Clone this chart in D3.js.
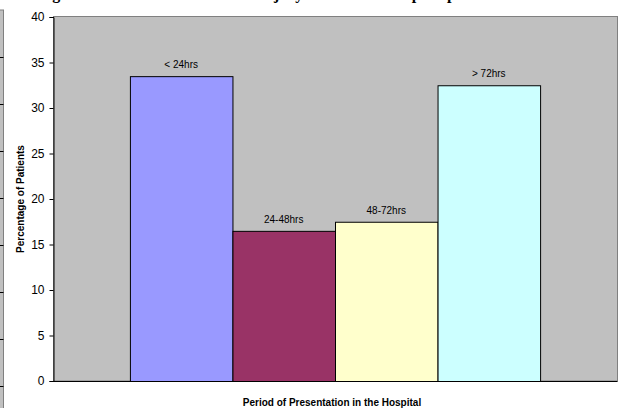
<!DOCTYPE html>
<html>
<head>
<meta charset="utf-8">
<script src="https://cdn.jsdelivr.net/npm/d3@7"></script>
<style>
  body { margin: 0; background: #fff; }
  svg { display: block; }
  text { font-family: Arial, "Liberation Sans", sans-serif; }
</style>
</head>
<body>
<svg id="chart" width="619" height="408"></svg>
<script>
// data
var category = ["Period of Presentation in the Hospital"];
var series = ["< 24hrs", "24-48hrs", "48-72hrs", "> 72hrs"];
var values = [33.5, 16.5, 17.5, 32.5];
var colors = ["#9999FF", "#993366", "#FFFFCC", "#CCFFFF"];
var yTicks = [0, 5, 10, 15, 20, 25, 30, 35, 40];

var svg = d3.select("#chart");

var plot = {left: 53, right: 617, top: 17, bottom: 381};

// bit of the neighbouring chart on the left edge
svg.append("rect")
	.attr("x", -1).attr("y", 10)
	.attr("width", 4.5).attr("height", 400)
	.attr("fill", "#C0C0C0")
	.attr("stroke", "#808080");
svg.selectAll(".edge_tick")
	.data(d3.range(57, 408, 47))
	.enter()
	.append("line")
	.attr("class", "edge_tick")
	.attr("x1", 0).attr("x2", 3.5)
	.attr("y1", function(d) { return d + 0.5; })
	.attr("y2", function(d) { return d + 0.5; })
	.attr("stroke", "#000");

// title, cut off by the top of the picture (only descenders show)
svg.append("text")
	.attr("x", 38)
	.attr("y", -1)
	.attr("style", "font-family: 'Liberation Serif', 'Times New Roman', serif; font-weight: bold; font-size: 16px;")
	.attr("fill", "#000")
	.text("Figure 2: Time interval between injury to the main hospital presentation");

var y = d3.scaleLinear()
	.domain([0, 40])
	.range([plot.bottom, plot.top]);

var x0 = d3.scaleBand()
	.domain(category)
	.range([plot.left, plot.right])
	.paddingOuter(0.1875)
	.paddingInner(0);

var x1 = d3.scaleBand()
	.domain(series)
	.range([0, x0.bandwidth()]);

// plot area
svg.append("rect")
	.attr("x", plot.left + 0.5)
	.attr("y", plot.top - 0.5)
	.attr("width", plot.right - plot.left)
	.attr("height", plot.bottom - plot.top + 0.5)
	.attr("fill", "#C0C0C0")
	.attr("stroke", "#808080");

// bars
svg.selectAll(".bar")
	.data(values)
	.enter()
	.append("rect")
	.attr("class", "bar")
	.attr("x", function(d, i) { return x0(category[0]) + x1(series[i]) + 0.5; })
	.attr("y", function(d) { return y(d) + 0.5; })
	.attr("width", x1.bandwidth())
	.attr("height", function(d) { return plot.bottom - y(d); })
	.attr("fill", function(d, i) { return colors[i]; })
	.attr("stroke", "#000")
	.attr("stroke-width", 1);

// bar labels
svg.selectAll(".bar_label")
	.data(values)
	.enter()
	.append("text")
	.attr("class", "bar_label")
	.attr("x", function(d, i) { return x0(category[0]) + x1(series[i]) + x1.bandwidth() / 2; })
	.attr("y", function(d) { return y(d) - 8; })
	.attr("text-anchor", "middle")
	.attr("font-size", "10px")
	.attr("fill", "#000")
	.text(function(d, i) { return series[i]; });

// y axis
var yAxis = d3.axisLeft(y)
	.tickValues(yTicks)
	.tickSize(4)
	.tickPadding(5);

var ag = svg.append("g")
	.attr("transform", "translate(" + (plot.left + 0.5) + ",0)")
	.call(yAxis);
ag.select(".domain").attr("stroke", "#000");
ag.selectAll(".tick line").attr("stroke", "#000");
ag.selectAll(".tick text")
	.attr("font-family", "Arial, 'Liberation Sans', sans-serif")
	.attr("font-size", "12px")
	.attr("fill", "#000");

// x axis line
svg.append("line")
	.attr("x1", plot.left).attr("x2", plot.right + 0.5)
	.attr("y1", plot.bottom + 0.5).attr("y2", plot.bottom + 0.5)
	.attr("stroke", "#000");

// axis titles
svg.append("text")
	.attr("transform", "translate(23.5," + ((plot.top + plot.bottom) / 2) + ") rotate(-90)")
	.attr("text-anchor", "middle")
	.attr("font-size", "10px")
	.attr("font-weight", "bold")
	.attr("fill", "#000")
	.text("Percentage of Patients");

svg.append("text")
	.attr("x", (plot.left + plot.right) / 2 - 3)
	.attr("y", 406)
	.attr("text-anchor", "middle")
	.attr("font-size", "10px")
	.attr("font-weight", "bold")
	.attr("fill", "#000")
	.text(category[0]);
</script>
</body>
</html>
